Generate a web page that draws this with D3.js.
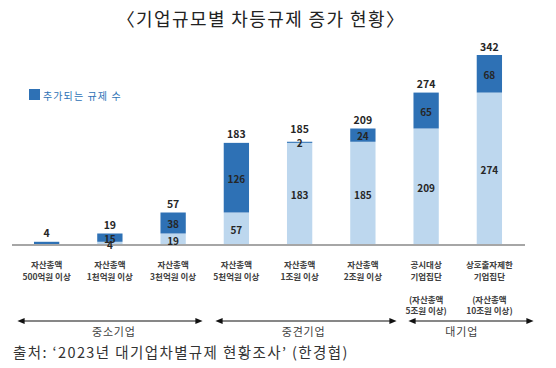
<!DOCTYPE html>
<html>
<head>
<meta charset="utf-8">
<script src="https://cdn.jsdelivr.net/npm/d3@7"></script>
<style>
  body { margin: 0; background: #fff; }
  svg { display: block; font-family: "Noto Sans CJK KR", "Noto Sans", sans-serif; }
</style>
</head>
<body>
<script>
// data
var categories = [
  ["자산총액", "500억원 이상"],
  ["자산총액", "1천억원 이상"],
  ["자산총액", "3천억원 이상"],
  ["자산총액", "5천억원 이상"],
  ["자산총액", "1조원 이상"],
  ["자산총액", "2조원 이상"],
  ["공시대상", "기업집단", "", "(자산총액", "5조원 이상)"],
  ["상호출자제한", "기업집단", "", "(자산총액", "10조원 이상)"]
];
var baseValues  = [0, 4, 19, 57, 183, 185, 209, 274];
var addedValues = [4, 15, 38, 126, 2, 24, 65, 68];
var groups = [
  {name: "중소기업", from: 0, to: 2},
  {name: "중견기업", from: 3, to: 5},
  {name: "대기업",   from: 6, to: 7}
];
var titleText  = "〈기업규모별 차등규제 증가 현황〉";
var legendText = "추가되는 규제 수";
var sourceText = "출처:  ‘2023년 대기업차별규제 현황조사’ (한경협)";

var width = 556, height = 368;
var darkBlue = "#2E71B5", lightBlue = "#BDD7EE";

var svg = d3.select("body").append("svg")
  .attr("width", width)
  .attr("height", height);

// arrow marker
var defs = svg.append("defs");
["start", "end"].forEach(function(k) {
  defs.append("marker")
    .attr("id", "arr-" + k)
    .attr("viewBox", "0 0 10 10")
    .attr("refX", 5).attr("refY", 5)
    .attr("markerWidth", 6).attr("markerHeight", 6)
    .attr("orient", k == "start" ? "auto-start-reverse" : "auto")
    .append("path")
    .attr("d", "M0,1 L10,5 L0,9 Z")
    .attr("fill", "#111");
});

var idx = d3.range(categories.length);

var xScale = d3.scaleBand()
  .domain(idx)
  .range([15, 521])
  .paddingInner(0.6)
  .paddingOuter(0.3);

var yScale = d3.scaleLinear()
  .domain([0, 342])
  .range([244, 55]);

// title
svg.append("text")
  .attr("x", 261).attr("y", 18)
  .attr("text-anchor", "middle")
  .attr("dominant-baseline", "central")
  .style("font-size", "18px")
  .style("letter-spacing", "1.4px")
  .attr("fill", "#222")
  .text(titleText);

// legend
svg.append("rect")
  .attr("x", 29).attr("y", 89)
  .attr("width", 11).attr("height", 11)
  .attr("fill", darkBlue);
svg.append("text")
  .attr("x", 43).attr("y", 95)
  .attr("dominant-baseline", "central")
  .attr("fill", darkBlue)
  .style("font-size", "10px")
  .style("letter-spacing", "1.1px")
  .text(legendText);

var bars = svg.append("g").attr("id", "bars");

// base segment
bars.selectAll(".base")
  .data(idx)
  .enter().append("rect")
  .attr("class", "base")
  .attr("x", function(i) { return xScale(i); })
  .attr("width", xScale.bandwidth())
  .attr("y", function(i) { return yScale(baseValues[i]); })
  .attr("height", function(i) { return yScale(0) - yScale(baseValues[i]); })
  .attr("fill", lightBlue);

// added segment
bars.selectAll(".added")
  .data(idx)
  .enter().append("rect")
  .attr("class", "added")
  .attr("x", function(i) { return xScale(i); })
  .attr("width", xScale.bandwidth())
  .attr("y", function(i) { return yScale(baseValues[i] + addedValues[i]); })
  .attr("height", function(i) { return yScale(baseValues[i]) - yScale(baseValues[i] + addedValues[i]); })
  .attr("fill", darkBlue);

// baseline
svg.append("line")
  .attr("x1", 12).attr("x2", 525)
  .attr("y1", yScale(0) + 1).attr("y2", yScale(0) + 1)
  .attr("stroke", "#A6A6A6")
  .attr("stroke-width", 2);

var labels = svg.append("g")
  .attr("font-weight", "bold")
  .attr("fill", "#262626")
  .attr("text-anchor", "middle");

// segment + total labels
idx.forEach(function(i) {
  var cx = xScale(i) + xScale.bandwidth() / 2;
  var total = baseValues[i] + addedValues[i];
  if (baseValues[i] > 0) {
    labels.append("text")
      .attr("x", cx)
      .attr("y", (yScale(0) + yScale(baseValues[i])) / 2 + 1.5)
      .attr("dominant-baseline", "central")
      .style("font-size", "10px")
      .text(baseValues[i]);
    labels.append("text")
      .attr("x", cx)
      .attr("y", (yScale(baseValues[i]) + yScale(total)) / 2 + 0.5)
      .attr("dominant-baseline", "central")
      .style("font-size", "10px")
      .text(addedValues[i]);
  }
  // tiny top segment: its label sits high, so lift the total
  var lift = (baseValues[i] > 0 && addedValues[i] < 5) ? 13 : 9;
  labels.append("text")
    .attr("x", cx)
    .attr("y", yScale(total) - lift)
    .attr("dominant-baseline", "central")
    .style("font-size", "10.5px")
    .text(total);
});

// category labels
var catG = svg.append("g")
  .attr("text-anchor", "middle")
  .attr("font-weight", "bold")
  .attr("fill", "#404040")
  .style("font-size", "8.5px");
categories.forEach(function(lines, i) {
  var cx = xScale(i) + xScale.bandwidth() / 2;
  lines.forEach(function(t, j) {
    if (t == "") return;
    catG.append("text")
      .attr("x", cx)
      .attr("y", 264 + j * 11.5)
      .attr("dominant-baseline", "central")
      .text(t);
  });
});

// group arrows
var arrowX = [[18, 202], [216, 396], [409, 533]];
groups.forEach(function(g, k) {
  svg.append("line")
    .attr("x1", arrowX[k][0] + 3).attr("x2", arrowX[k][1] - 3)
    .attr("y1", 321).attr("y2", 321)
    .attr("stroke", "#111")
    .attr("stroke-width", 1.2)
    .attr("marker-start", "url(#arr-start)")
    .attr("marker-end", "url(#arr-end)");
  var cx = (xScale(g.from) + xScale(g.to) + xScale.bandwidth()) / 2;
  svg.append("text")
    .attr("x", cx + 4)
    .attr("y", 331)
    .attr("text-anchor", "middle")
    .attr("dominant-baseline", "central")
    .attr("fill", "#404040")
    .style("font-size", "11px")
    .style("letter-spacing", "0.8px")
    .text(g.name);
});

// source
svg.append("text")
  .attr("x", 13).attr("y", 351)
  .attr("dominant-baseline", "central")
  .attr("fill", "#333")
  .style("font-size", "14.5px")
  .style("letter-spacing", "1.4px")
  .text(sourceText);
</script>
</body>
</html>
